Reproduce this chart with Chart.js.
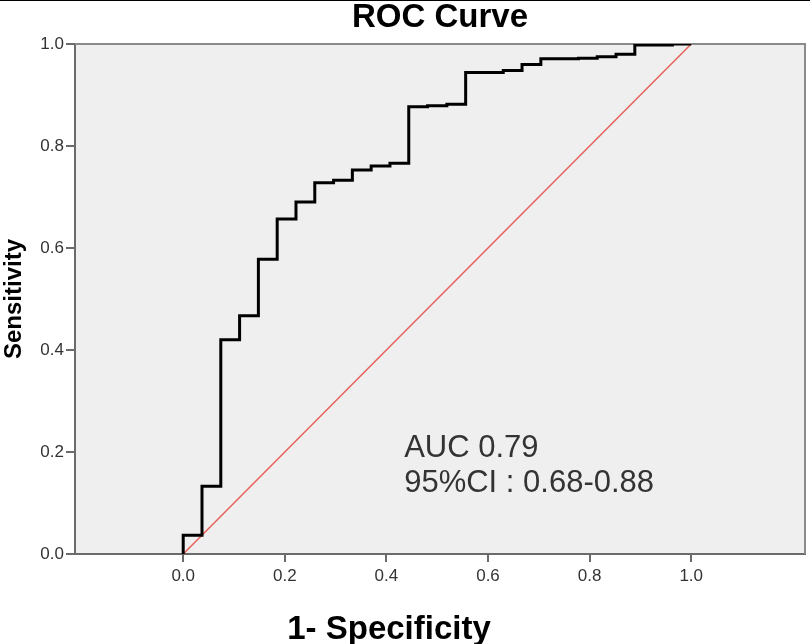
<!DOCTYPE html>
<html>
<head>
<meta charset="utf-8">
<script src="https://cdn.jsdelivr.net/npm/chart.js@4/dist/chart.umd.min.js"></script>
<style>
  body { margin: 0; background: #fff; }
  canvas { display: block; }
</style>
</head>
<body>
<canvas id="chart" width="810" height="644"></canvas>
<script>
// ROC points (1 - specificity, sensitivity)
var fpr = [0, 0, 0.037, 0.074, 0.111, 0.148, 0.185, 0.222, 0.259, 0.296, 0.333, 0.370, 0.407,
           0.444, 0.481, 0.519, 0.556, 0.630, 0.667, 0.704, 0.778, 0.815, 0.852, 0.889, 0.963, 1.0];
var tpr = [0, 0.037, 0.133, 0.420, 0.467, 0.578, 0.657, 0.690, 0.728, 0.733, 0.753, 0.761, 0.766,
           0.877, 0.879, 0.882, 0.944, 0.948, 0.960, 0.971, 0.972, 0.975, 0.980, 0.998, 1.0, 1.0];
var refX = [0, 1];
var refY = [0, 1];
var xTicks = [0, 0.2, 0.4, 0.6, 0.8, 1.0];
var yTicks = [0, 0.2, 0.4, 0.6, 0.8, 1.0];
var titleText = 'ROC Curve';
var xTitle = '1- Specificity';
var yTitle = 'Sensitivity';
var aucLines = ['AUC 0.79', '95%CI : 0.68-0.88'];
var aucPos = { x: 0.435, y: [0.191, 0.122] };

var FONT = '"Liberation Sans", Arial, Helvetica, sans-serif';

var rocPoints = fpr.map(function (v, i) { return { x: v, y: tpr[i] }; });
var refPoints = refX.map(function (v, i) { return { x: v, y: refY[i] }; });

var framePlugin = {
  id: 'frame',
  beforeDraw: function (chart) {
    var c = chart.ctx, a = chart.chartArea;
    c.save();
    c.fillStyle = '#000';
    c.fillRect(0, 0, chart.width, 1);
    c.fillStyle = '#efefef';
    c.fillRect(a.left, a.top, a.right - a.left, a.bottom - a.top);
    c.restore();
  },
  beforeDatasetsDraw: function (chart) {
    var c = chart.ctx, a = chart.chartArea;
    c.save();
    c.strokeStyle = '#8a8a8a';
    c.lineWidth = 2;
    c.beginPath();
    c.moveTo(a.left, a.top);
    c.lineTo(a.right, a.top);
    c.lineTo(a.right, a.bottom);
    c.stroke();
    c.restore();
  },
  afterDraw: function (chart) {
    var c = chart.ctx;
    var xs = chart.scales.x, ys = chart.scales.y;
    c.save();
    // AUC annotation
    c.fillStyle = '#333';
    c.font = '31px ' + FONT;
    c.textAlign = 'left';
    c.textBaseline = 'alphabetic';
    aucLines.forEach(function (t, i) {
      c.fillText(t, xs.getPixelForValue(aucPos.x), ys.getPixelForValue(aucPos.y[i]));
    });
    // x axis title
    c.fillStyle = '#000';
    c.font = 'bold 33px ' + FONT;
    c.textAlign = 'center';
    c.fillText(xTitle, 389, 639);
    c.restore();
  }
};

var ctx = document.getElementById('chart').getContext('2d');
var myChart = new Chart(ctx, {
  type: 'line',
  data: {
    datasets: [{
      data: rocPoints,
      borderColor: '#000',
      borderWidth: 3,
      stepped: 'before',
      pointRadius: 0,
      fill: false
    }, {
      data: refPoints,
      borderColor: '#e8625c',
      borderWidth: 1.5,
      pointRadius: 0,
      fill: false
    }]
  },
  options: {
    responsive: false,
    animation: false,
    layout: { padding: { left: 0, right: 5, top: 0, bottom: 0 } },
    plugins: {
      legend: { display: false },
      tooltip: { enabled: false },
      title: {
        display: true,
        text: titleText,
        fullSize: false,
        color: '#000',
        font: { family: FONT, size: 33, weight: 'bold', lineHeight: 1.0 },
        padding: { top: 1, bottom: 10 }
      }
    },
    scales: {
      x: {
        type: 'linear',
        min: -0.213,
        max: 1.224,
        afterBuildTicks: function (s) { s.ticks = xTicks.map(function (v) { return { value: v }; }); },
        afterFit: function (s) { s.height = 90; },
        ticks: {
          autoSkip: false,
          maxRotation: 0,
          padding: 4,
          color: '#333',
          font: { family: FONT, size: 17 },
          callback: function (v) { return v.toFixed(1); }
        },
        grid: { drawOnChartArea: false, drawTicks: true, tickLength: 8, color: '#6b6b6b', lineWidth: 2 },
        border: { display: true, color: '#6b6b6b', width: 2 }
      },
      y: {
        type: 'linear',
        min: 0,
        max: 1,
        afterBuildTicks: function (s) { s.ticks = yTicks.map(function (v) { return { value: v }; }); },
        afterFit: function (s) { s.width = 75; },
        ticks: {
          autoSkip: false,
          padding: 2,
          color: '#333',
          font: { family: FONT, size: 17 },
          callback: function (v) { return v.toFixed(1); }
        },
        grid: { drawOnChartArea: false, drawTicks: true, tickLength: 9, color: '#6b6b6b', lineWidth: 2 },
        border: { display: true, color: '#6b6b6b', width: 2 },
        title: {
          display: true,
          text: yTitle,
          color: '#000',
          font: { family: FONT, size: 24, weight: 'bold' },
          padding: 0
        }
      }
    }
  },
  plugins: [framePlugin]
});
</script>
</body>
</html>
